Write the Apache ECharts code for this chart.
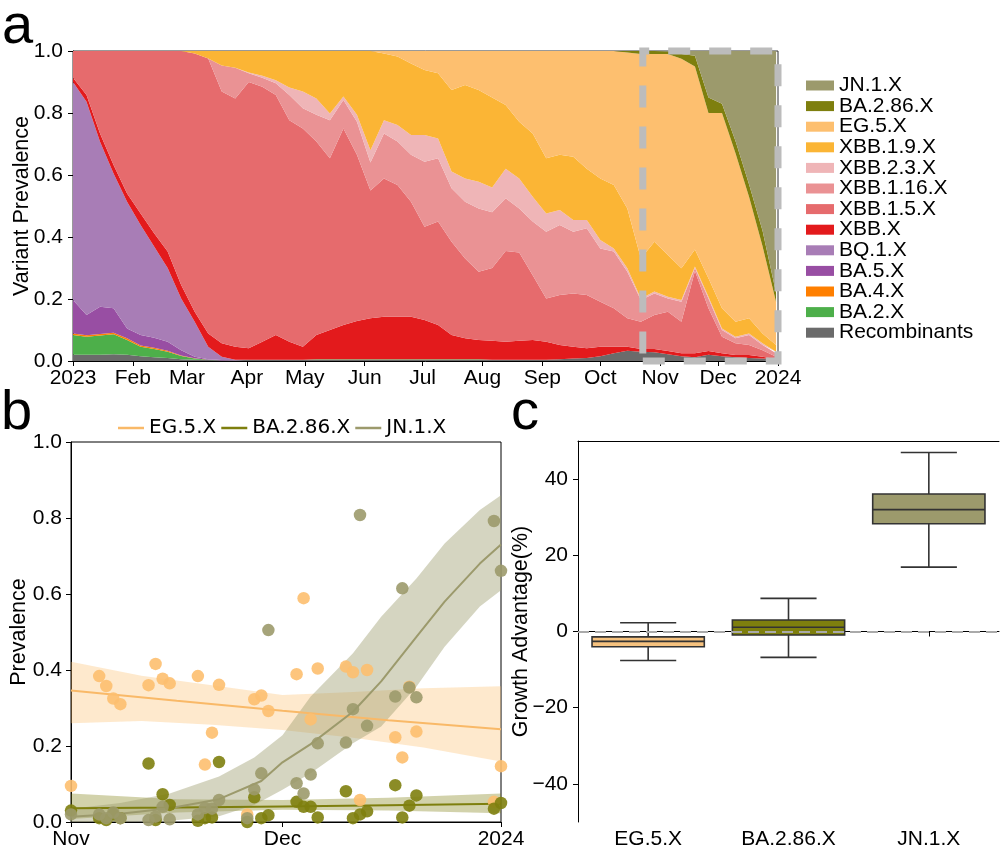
<!DOCTYPE html>
<html><head><meta charset="utf-8">
<script src="https://cdn.jsdelivr.net/npm/echarts@6/dist/echarts.min.js"></script>
<style>html,body{margin:0;padding:0;background:#fff}#c{width:1000px;height:854px}</style>
</head><body><div id="c"></div>
<script>
// ---------- Panel a: weekly variant prevalence (stacked) ----------
const aDates = ['2023-01-01','2023-01-08','2023-01-15','2023-01-22','2023-01-29','2023-02-05','2023-02-12','2023-02-19','2023-02-26','2023-03-05','2023-03-12','2023-03-19','2023-03-26','2023-04-02','2023-04-09','2023-04-16','2023-04-23','2023-04-30','2023-05-07','2023-05-14','2023-05-21','2023-05-28','2023-06-04','2023-06-11','2023-06-18','2023-06-25','2023-07-02','2023-07-09','2023-07-16','2023-07-23','2023-07-30','2023-08-06','2023-08-13','2023-08-20','2023-08-27','2023-09-03','2023-09-10','2023-09-17','2023-09-24','2023-10-01','2023-10-08','2023-10-15','2023-10-22','2023-10-29','2023-11-05','2023-11-12','2023-11-19','2023-11-26','2023-12-03','2023-12-10','2023-12-17','2023-12-24','2023-12-31'];
const aTicks = ['2023-01-01','2023-02-01','2023-03-01','2023-04-01','2023-05-01','2023-06-01','2023-07-01','2023-08-01','2023-09-01','2023-10-01','2023-11-01','2023-12-01','2024-01-01'];
const monthNames = ['Jan','Feb','Mar','Apr','May','Jun','Jul','Aug','Sep','Oct','Nov','Dec'];

const recombinants = [.02,.02,.02,.022,.02,.015,.012,.01,.006,.004,.003,.002,.002,.004,.004,.004,.004,.004,.004,.004,.004,.004,.004,.004,.004,.004,.004,.004,.004,.004,.004,.004,.004,.004,.004,.004,.006,.008,.01,.015,.025,.033,.03,.028,.022,.015,.012,.02,.015,.012,.01,.008,.004];
const ba2 = [.064,.058,.062,.064,.048,.031,.027,.02,.01,.004,.001,0,0,0,0,0,0,0,.002,.002,.002,.002,.002,.002,.002,.002,.002,.002,.002,.002,.002,0,0,0,0,0,0,0,0,0,0,0,0,0,0,0,0,0,0,0,0,0,0];
const ba4 = [.005,.005,.005,.005,.005,.004,.004,.003,.002,.001,0,0,0,0,0,0,0,0,0,0,0,0,0,0,0,0,0,0,0,0,0,0,0,0,0,0,0,0,0,0,0,0,0,0,0,0,0,0,0,0,0,0,0];
const ba5 = [.108,.065,.088,.079,.032,.034,.032,.029,.017,.005,.002,.001,0,0,0,0,0,0,0,0,0,0,0,0,0,0,0,0,0,0,0,0,0,0,0,0,0,0,0,0,0,0,0,0,0,0,0,0,0,0,0,0,0];
const bq1 = [.703,.688,.532,.435,.409,.355,.294,.238,.167,.113,.04,.011,.002,0,0,0,0,0,0,0,0,0,0,0,0,0,0,0,0,0,0,0,0,0,0,0,0,0,0,0,0,0,0,0,0,0,0,0,0,0,0,0,0];
const xbb = [.014,.022,.027,.027,.026,.037,.043,.053,.043,.032,.043,.043,.042,.037,.058,.08,.058,.042,.078,.094,.11,.123,.132,.137,.137,.137,.126,.11,.078,.067,.062,.061,.058,.061,.064,.058,.046,.038,.031,.031,.021,.013,.009,.011,.01,.01,.013,.012,.01,.007,.009,.006,.002];
const xbb15 = [.086,.142,.266,.368,.46,.524,.588,.647,.755,.833,.887,.812,.801,.859,.823,.774,.715,.704,.624,.554,.634,.536,.412,.446,.425,.371,.301,.334,.301,.258,.22,.235,.293,.285,.209,.14,.161,.172,.172,.145,.124,.092,.088,.109,.127,.102,.265,.138,.053,.038,.033,.021,.008];
const xbb116 = [0,0,0,0,0,0,0,0,0,0,0,.084,.099,.028,.029,.038,.081,.065,.086,.123,.092,.107,.09,.145,.14,.151,.21,.204,.172,.183,.204,.18,.17,.142,.173,.215,.226,.199,.215,.172,.183,.15,.07,.07,.043,.064,.01,.032,.022,.016,.032,.017,.011];
const xbb23 = [0,0,0,0,0,0,0,0,0,0,0,0,0,.003,.006,.01,.024,.054,.053,.021,.011,.022,.04,.043,.053,.064,.086,.064,.054,.075,.086,.08,.095,.097,.08,.059,.048,.038,.027,.027,.01,.011,.005,.006,.005,.006,.005,.005,.005,.005,.005,.005,.005];
const xbb19 = [0,0,0,0,0,0,0,0,0,.008,.024,.047,.054,.069,.08,.094,.118,.131,.153,.202,.147,.206,.32,.215,.221,.231,.21,.21,.263,.301,.296,.29,.206,.183,.204,.178,.178,.204,.165,.199,.205,.193,.129,.161,.135,.102,.055,.06,.065,.049,.049,.032,.022];
const eg5 = [0,0,0,0,0,0,0,0,0,0,0,0,0,0,0,0,0,0,0,0,0,0,0,.008,.018,.04,.061,.072,.126,.11,.126,.15,.174,.228,.266,.346,.335,.341,.38,.411,.432,.503,.659,.605,.648,.676,.59,.533,.63,.543,.392,.281,.138];
const ba286 = [0,0,0,0,0,0,0,0,0,0,0,0,0,0,0,0,0,0,0,0,0,0,0,0,0,0,0,0,0,0,0,0,0,0,0,0,0,0,0,0,0,.005,.01,.01,.008,.015,.035,.05,.03,.04,.04,.05,.03];
const jn1 = [0,0,0,0,0,0,0,0,0,0,0,0,0,0,0,0,0,0,0,0,0,0,0,0,0,0,0,0,0,0,0,0,0,0,0,0,0,0,0,0,0,0,0,0,.002,.01,.015,.15,.17,.29,.43,.58,.78];
const zoomBox = ['2023-10-23','2024-01-01'];

// ---------- Panel b: Nov-Dec prevalence points and fits ----------
const bDates = ['2023-11-01','2023-11-05','2023-11-06','2023-11-07','2023-11-08','2023-11-12','2023-11-13','2023-11-14','2023-11-15','2023-11-19','2023-11-20','2023-11-21','2023-11-22','2023-11-26','2023-11-27','2023-11-28','2023-11-29','2023-12-03','2023-12-04','2023-12-05','2023-12-06','2023-12-10','2023-12-11','2023-12-12','2023-12-13','2023-12-17','2023-12-18','2023-12-19','2023-12-20','2023-12-31','2024-01-01'];
const egPoints = [.095,.384,.358,.325,.31,.36,.416,.377,.365,.384,.151,.235,.361,.02,.323,.333,.292,.389,.589,.27,.404,.409,.394,.058,.40,.223,.17,.356,.238,.053,.147];
const ba286Points = [.03,.01,.005,.02,.01,.154,.005,.073,.045,.003,.01,.012,.158,0,.065,.01,.018,.053,.04,.04,.012,.081,.01,.02,.028,.097,.012,.043,.07,.035,.05];
const jn1Points = [.02,.02,.01,.025,.01,.005,.014,.04,.007,.02,.037,.035,.058,.01,.086,.128,.505,.102,.075,.125,.207,.209,.297,.808,.253,.33,.615,.354,.328,.792,.661];
const bTicks = ['2023-11-01','2023-12-01','2024-01-01'];

const egFitDates = ['2023-11-01','2023-11-16','2023-12-01','2023-12-16','2024-01-01'];
const egFit = [.346,.319,.293,.268,.244];
const egBandDates = ['2023-11-01','2023-11-11','2023-11-21','2023-12-01','2023-12-11','2023-12-21','2024-01-01'];
const egUpper = [.422,.385,.36,.334,.342,.352,.357];
const egLower = [.26,.266,.256,.242,.222,.196,.159];

const baFitDates = ['2023-11-01','2023-11-16','2023-12-01','2023-12-16','2024-01-01'];
const baFit = [.036,.038,.041,.044,.048];
const baUpper = [.075,.06,.058,.064,.075];
const baLower = [.008,.025,.032,.03,.023];

const jnFitDates = ['2023-11-01','2023-11-08','2023-11-15','2023-11-22','2023-11-28','2023-12-01','2023-12-05','2023-12-11','2023-12-15','2023-12-20','2023-12-24','2023-12-29','2024-01-01'];
const jnFit = [.014,.022,.036,.06,.108,.157,.205,.29,.37,.487,.58,.68,.73];
const jnBandDates = ['2023-11-01','2023-11-08','2023-11-15','2023-11-22','2023-11-27','2023-12-01','2023-12-05','2023-12-11','2023-12-15','2023-12-20','2023-12-24','2023-12-29','2024-01-01'];
const jnUpper = [.035,.05,.075,.12,.17,.228,.33,.444,.54,.641,.733,.821,.86];
const jnLower = [0,0,.003,.015,.045,.085,.128,.207,.251,.356,.461,.567,.61];

// ---------- Panel c: growth advantage box stats [min,q1,median,q3,max] ----------
const boxCategories = ['EG.5.X','BA.2.86.X','JN.1.X'];
const boxStats = [[-7.6,-4.0,-2.6,-1.4,2.3],[-6.8,-0.9,1.1,3.0,8.7],[16.9,28.3,32.0,36.1,47.0]];
const cTicks = [-40,-20,0,20,40];

// ---------- styles ----------
const FONT = '"Liberation Sans", Arial, sans-serif';
const ts = s => { const p = s.split('-').map(Number); return new Date(p[0], p[1]-1, p[2]).getTime(); };
const dateLabel = v => { const d = new Date(v); return d.getMonth() === 0 ? String(d.getFullYear()) : monthNames[d.getMonth()]; };
const AX_A = 4, AX_B = 5; // hidden time axes used for drawing

const aLayers = [
  ['Recombinants', recombinants, '#6b6b6b'],
  ['BA.2.X', ba2, '#4daf4a'],
  ['BA.4.X', ba4, '#ff7f00'],
  ['BA.5.X', ba5, '#984ea3'],
  ['BQ.1.X', bq1, '#a87db6'],
  ['XBB.X', xbb, '#e31a1c'],
  ['XBB.1.5.X', xbb15, '#e66b6d'],
  ['XBB.1.16.X', xbb116, '#ea9294'],
  ['XBB.2.3.X', xbb23, '#efb5b7'],
  ['XBB.1.9.X', xbb19, '#fbb535'],
  ['EG.5.X', eg5, '#fdbf6f'],
  ['BA.2.86.X', ba286, '#7e7f0e'],
  ['JN.1.X', jn1, '#9c9a6c']
];
const cEG = '#fdbf6f', cBA = '#7e7f0e', cJN = '#9c9a6c';
const boxColors = ['#f6c27f', '#7e7f0e', '#9c9a6c'];

const series = [];
aLayers.forEach(([name, vals, color]) => {
  series.push({
    name, type: 'line', xAxisIndex: AX_A, yAxisIndex: 0, stack: 'prev', symbol: 'none',
    color, lineStyle: { width: 0 }, areaStyle: { color, opacity: 1 }, silent: true, z: 2,
    data: aDates.map((d, i) => [ts(d), vals[i]])
  });
});
// dashed zoom rectangle
series.push({
  name: 'zoom', type: 'line', xAxisIndex: AX_A, yAxisIndex: 0, data: [], z: 10, zlevel: 1, silent: true,
  markArea: { silent: true, z: 20, itemStyle: { color: 'rgba(0,0,0,0)', borderColor: '#bcbcbc', borderWidth: 7, borderType: [22, 19] },
    data: [[{ xAxis: ts(zoomBox[0]), yAxis: 0 }, { xAxis: ts(zoomBox[1]), yAxis: 1 }]] }
});

function band(name, dates, lower, upper, color) {
  series.push({ name: name + ' lo', type: 'line', xAxisIndex: AX_B, yAxisIndex: 1, stack: name, symbol: 'none',
    lineStyle: { width: 0, opacity: 0 }, silent: true, z: 2, data: dates.map((d, i) => [ts(d), lower[i]]) });
  series.push({ name: name + ' hi', type: 'line', xAxisIndex: AX_B, yAxisIndex: 1, stack: name, symbol: 'none',
    lineStyle: { width: 0, opacity: 0 }, areaStyle: { color, opacity: 1 }, silent: true, z: 2,
    data: dates.map((d, i) => [ts(d), upper[i] - lower[i]]) });
}
function fit(name, dates, vals, color) {
  series.push({ name: name + ' fit', type: 'line', xAxisIndex: AX_B, yAxisIndex: 1, symbol: 'none', showSymbol: false,
    color, lineStyle: { width: 2, color }, silent: true, z: 3, data: dates.map((d, i) => [ts(d), vals[i]]) });
}
function pts(name, vals, color) {
  series.push({ name: name + ' pts', type: 'scatter', xAxisIndex: AX_B, yAxisIndex: 1, symbolSize: 12.5,
    itemStyle: { color, opacity: 0.9 }, silent: true, z: 5, data: bDates.map((d, i) => [ts(d), vals[i]]) });
}
band('EG', egBandDates, egLower, egUpper, 'rgba(253,191,111,0.35)');
fit('EG.5.X', egFitDates, egFit, '#f9b968');
band('BA', baFitDates, baLower, baUpper, 'rgba(126,127,14,0.35)');
fit('BA.2.86.X', baFitDates, baFit, cBA);
band('JN', jnBandDates, jnLower, jnUpper, 'rgba(156,154,108,0.42)');
fit('JN.1.X', jnFitDates, jnFit, cJN);
pts('EG', egPoints, cEG);
pts('BA', ba286Points, cBA);
pts('JN', jn1Points, cJN);

// panel c
series.push({
  name: 'boxes', type: 'custom', xAxisIndex: 2, yAxisIndex: 2, silent: true, z: 3,
  encode: { x: 0, y: [1, 2, 3, 4, 5] },
  data: boxStats.map((s, i) => [i].concat(s)),
  renderItem: function (params, api) {
    const i = api.value(0);
    const lo = api.coord([i, api.value(1)]), q1 = api.coord([i, api.value(2)]), md = api.coord([i, api.value(3)]),
          q3 = api.coord([i, api.value(4)]), hi = api.coord([i, api.value(5)]);
    const bw = api.size([1, 0])[0] * 0.8, cw = bw * 0.5, x = md[0];
    const st = () => ({ stroke: '#333', lineWidth: 1.6 });
    return { type: 'group', children: [
      { type: 'line', shape: { x1: x, y1: q3[1], x2: x, y2: hi[1] }, style: st() },
      { type: 'line', shape: { x1: x, y1: q1[1], x2: x, y2: lo[1] }, style: st() },
      { type: 'line', shape: { x1: x - cw / 2, y1: hi[1], x2: x + cw / 2, y2: hi[1] }, style: st() },
      { type: 'line', shape: { x1: x - cw / 2, y1: lo[1], x2: x + cw / 2, y2: lo[1] }, style: st() },
      { type: 'rect', shape: { x: x - bw / 2, y: q3[1], width: bw, height: q1[1] - q3[1] }, style: { fill: boxColors[i], stroke: '#333', lineWidth: 1.6 } },
      { type: 'line', shape: { x1: x - bw / 2, y1: md[1], x2: x + bw / 2, y2: md[1] }, style: st() }
    ] };
  }
});
series.push({
  name: 'zero', type: 'line', xAxisIndex: 2, yAxisIndex: 2, data: [], z: 10, silent: true,
  markLine: { silent: true, symbol: ['none', 'none'], label: { show: false },
    lineStyle: { color: '#aaaaaa', width: 2, type: [11, 6] }, data: [{ yAxis: 0 }] }
});

const axisLine = { show: true, lineStyle: { color: '#000', width: 1 } };
const axisTick = { show: true, length: 5, lineStyle: { color: '#000', width: 1 } };
const lbl = { color: '#000', fontSize: 21, fontFamily: FONT };
const nameStyle = { fontSize: 21.5, color: '#000', fontFamily: FONT };
const hiddenTime = (g, a, b) => ({ type: 'time', gridIndex: g, min: ts(a), max: ts(b), show: false,
  axisLine: { show: false }, axisTick: { show: false }, axisLabel: { show: false }, splitLine: { show: false } });

const option = {
  animation: false,
  backgroundColor: '#fff',
  textStyle: { fontFamily: FONT },
  grid: [
    { left: 73, top: 51, width: 705, height: 310, show: true, borderColor: '#333', borderWidth: 1, containLabel: false, outerBoundsMode: 'none' },
    { left: 71, top: 442, width: 430, height: 380, show: true, borderColor: '#000', borderWidth: 1, containLabel: false, outerBoundsMode: 'none' },
    { left: 578, top: 441, width: 421, height: 381, containLabel: false, outerBoundsMode: 'none' }
  ],
  legend: [
    { data: aLayers.map(l => l[0]).reverse(), orient: 'vertical', left: 801, top: 70, icon: 'rect',
      itemWidth: 28, itemHeight: 10, itemGap: -0.4, selectedMode: false,
      textStyle: { fontSize: 21, lineHeight: 20, color: '#000', fontFamily: FONT } },
    { data: ['EG.5.X fit', 'BA.2.86.X fit', 'JN.1.X fit'], orient: 'horizontal', left: 113, top: 413, icon: 'rect',
      itemWidth: 26, itemHeight: 2.5, itemGap: 5, selectedMode: false,
      formatter: n => n.replace(' fit', ''),
      textStyle: { fontSize: 20, color: '#000', fontFamily: '"DejaVu Sans", sans-serif' } }
  ],
  xAxis: [
    { type: 'value', gridIndex: 0, min: ts('2023-01-01'), max: ts('2024-01-01'), axisLine, axisTick: Object.assign({ customValues: aTicks.map(ts) }, axisTick),
      axisLabel: Object.assign({ customValues: aTicks.map(ts), formatter: dateLabel, margin: 7 }, lbl), splitLine: { show: false } },
    { type: 'value', gridIndex: 1, min: ts('2023-11-01'), max: ts('2024-01-01'), axisLine, axisTick: Object.assign({ customValues: bTicks.map(ts) }, axisTick),
      axisLabel: Object.assign({ customValues: bTicks.map(ts), formatter: dateLabel, margin: 7 }, lbl), splitLine: { show: false } },
    { type: 'category', gridIndex: 2, data: boxCategories, boundaryGap: true, axisLine,
      axisTick: Object.assign({ alignWithLabel: true }, axisTick), axisLabel: Object.assign({ margin: 7 }, lbl) },
    { type: 'category', gridIndex: 2, data: boxCategories, position: 'top', axisLine, axisTick: { show: false }, axisLabel: { show: false } },
    hiddenTime(0, '2023-01-01', '2024-01-01'),
    hiddenTime(1, '2023-11-01', '2024-01-01')
  ],
  yAxis: [
    { type: 'value', gridIndex: 0, min: 0, max: 1, interval: 0.2, axisLine, axisTick, splitLine: { show: false },
      axisLabel: Object.assign({ formatter: v => v.toFixed(1), margin: 10 }, lbl),
      name: 'Variant Prevalence', nameLocation: 'middle', nameGap: 40, nameMoveOverlap: false, nameTextStyle: nameStyle },
    { type: 'value', gridIndex: 1, min: 0, max: 1, interval: 0.2, axisLine, axisTick, splitLine: { show: false },
      axisLabel: Object.assign({ formatter: v => v.toFixed(1), margin: 9 }, lbl),
      name: 'Prevalence', nameLocation: 'middle', nameGap: 41, nameMoveOverlap: false, nameTextStyle: nameStyle },
    { type: 'value', gridIndex: 2, min: -50, max: 50, axisLine, splitLine: { show: false },
      axisTick: Object.assign({ customValues: cTicks }, axisTick),
      axisLabel: Object.assign({ customValues: cTicks, formatter: v => v < 0 ? '\u2212' + Math.abs(v) : String(v), margin: 10 }, lbl),
      name: 'Growth Advantage(%)', nameLocation: 'middle', nameGap: 46, nameMoveOverlap: false, nameTextStyle: nameStyle }
  ],
  graphic: [
    { type: 'text', left: 2, top: 0, style: { text: 'a', font: '56px "Liberation Sans", Arial', fill: '#000' } },
    { type: 'text', left: 1, top: 386, style: { text: 'b', font: '56px "Liberation Sans", Arial', fill: '#000' } },
    { type: 'text', left: 511, top: 386, style: { text: 'c', font: '56px "Liberation Sans", Arial', fill: '#000' } }
  ],
  series
};
const chart = echarts.init(document.getElementById('c'), null, { renderer: 'canvas' });
chart.setOption(option);
</script>
</body></html>
